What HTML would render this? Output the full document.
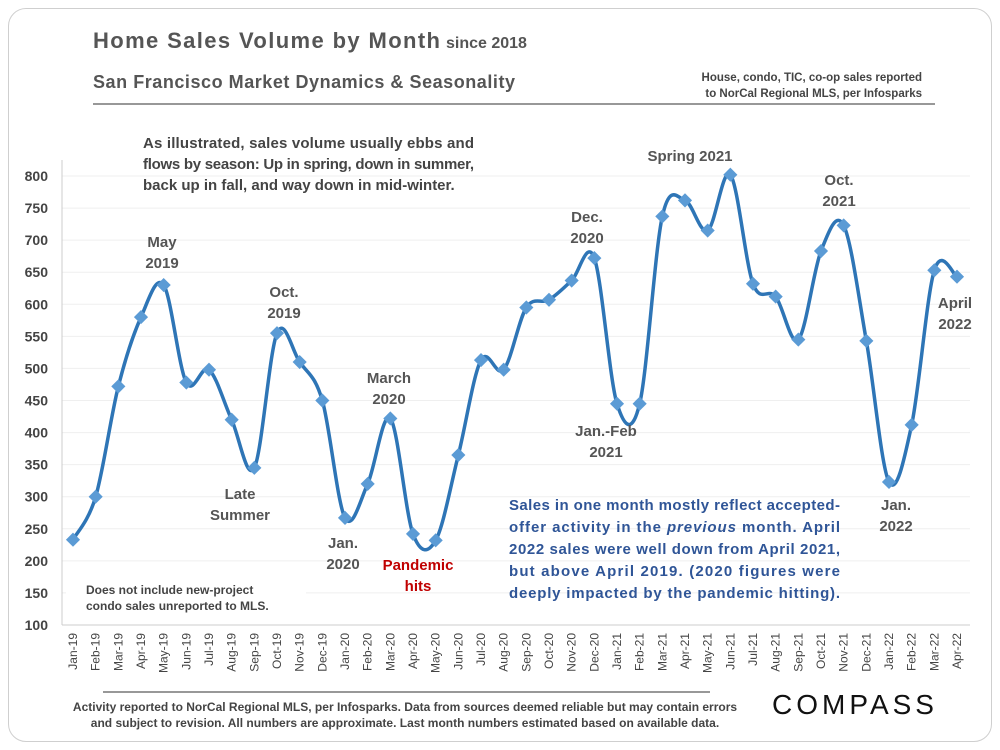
<!DOCTYPE html>
<html><head><meta charset="utf-8"><style>
body{margin:0;background:#fff;font-family:"Liberation Sans",sans-serif;}
#card{position:absolute;left:8px;top:8px;width:982px;height:732px;border:1.5px solid #cfcfcf;border-radius:18px;background:#fff;}
svg text{font-family:"Liberation Sans",sans-serif;}
</style></head><body>
<div id="card"></div>
<svg id="chart" width="1000" height="750" style="position:absolute;left:0;top:0">
<text x="93" y="48" font-size="22" font-weight="bold" fill="#555" textLength="347" lengthAdjust="spacing">Home Sales Volume by Month</text>
<text x="446" y="48" font-size="16" font-weight="bold" fill="#555">since 2018</text>
<text x="93" y="88" font-size="18" font-weight="bold" fill="#555" textLength="422" lengthAdjust="spacing">San Francisco Market Dynamics &amp; Seasonality</text>
<line x1="93" y1="104" x2="935" y2="104" stroke="#777" stroke-width="1.5"/>
<text x="922" y="81" font-size="11.5" font-weight="bold" fill="#444" text-anchor="end">House, condo, TIC, co-op sales reported</text>
<text x="922" y="97" font-size="11.5" font-weight="bold" fill="#444" text-anchor="end">to NorCal Regional MLS, per Infosparks</text>
<g id="grid"></g><g id="yt"></g><g id="xt"></g>
<line x1="62" y1="160" x2="62" y2="625" stroke="#ccc"/>
<line x1="62" y1="625" x2="970" y2="625" stroke="#ccc"/>
<path id="line" fill="none" stroke="#2e75b6" stroke-width="3.5"/>
<g id="pts"></g>
<rect x="66" y="578" width="240" height="44" fill="#fff"/>
<text x="86" y="594" font-size="12" font-weight="bold" fill="#444">Does not include new-project</text>
<text x="86" y="610" font-size="12" font-weight="bold" fill="#444">condo sales unreported to MLS.</text>
<g font-size="15" font-weight="bold" fill="#444">
<text x="143" y="148" textLength="331" lengthAdjust="spacing">As illustrated, sales volume usually ebbs and</text>
<text x="143" y="169" textLength="331" lengthAdjust="spacing">flows by season: Up in spring, down in summer,</text>
<text x="143" y="190">back up in fall, and way down in mid-winter.</text>
</g>
<g font-size="15" font-weight="bold" fill="#2f5597">
<text x="509" y="510" textLength="331" lengthAdjust="spacing">Sales in one month mostly reflect accepted-</text>
<text x="509" y="532" textLength="331" lengthAdjust="spacing">offer activity in the <tspan font-style="italic">previous</tspan> month. April</text>
<text x="509" y="554" textLength="331" lengthAdjust="spacing">2022 sales were well down from April 2021,</text>
<text x="509" y="576" textLength="331" lengthAdjust="spacing">but above April 2019. (2020 figures were</text>
<text x="509" y="598" textLength="331" lengthAdjust="spacing">deeply impacted by the pandemic hitting).</text>
</g>
<g font-size="15" font-weight="bold" fill="#555" text-anchor="middle">
<text x="162" y="247">May</text><text x="162" y="268">2019</text>
<text x="284" y="297">Oct.</text><text x="284" y="318">2019</text>
<text x="240" y="499">Late</text><text x="240" y="520">Summer</text>
<text x="343" y="548">Jan.</text><text x="343" y="569">2020</text>
<text x="389" y="383">March</text><text x="389" y="404">2020</text>
<text x="418" y="570" fill="#c00000">Pandemic</text><text x="418" y="591" fill="#c00000">hits</text>
<text x="587" y="222">Dec.</text><text x="587" y="243">2020</text>
<text x="606" y="436">Jan.-Feb</text><text x="606" y="457">2021</text>
<text x="690" y="161">Spring 2021</text>
<text x="839" y="185">Oct.</text><text x="839" y="206">2021</text>
<text x="896" y="510">Jan.</text><text x="896" y="531">2022</text>
<text x="955" y="308">April</text><text x="955" y="329">2022</text>
</g>
<line x1="103" y1="692" x2="710" y2="692" stroke="#777" stroke-width="1.5"/>
<text x="405" y="711" font-size="12" font-weight="bold" fill="#444" text-anchor="middle">Activity reported to NorCal Regional MLS, per Infosparks. Data from sources deemed reliable but may contain errors</text>
<text x="405" y="727" font-size="12" font-weight="bold" fill="#444" text-anchor="middle">and subject to revision. All numbers are approximate. Last month numbers estimated based on available data.</text>
<text x="855" y="714" font-size="28" fill="#111" text-anchor="middle" letter-spacing="4">COMPASS</text>
</svg>
<script>
const months=["Jan-19","Feb-19","Mar-19","Apr-19","May-19","Jun-19","Jul-19","Aug-19","Sep-19","Oct-19","Nov-19","Dec-19","Jan-20","Feb-20","Mar-20","Apr-20","May-20","Jun-20","Jul-20","Aug-20","Sep-20","Oct-20","Nov-20","Dec-20","Jan-21","Feb-21","Mar-21","Apr-21","May-21","Jun-21","Jul-21","Aug-21","Sep-21","Oct-21","Nov-21","Dec-21","Jan-22","Feb-22","Mar-22","Apr-22"];
const sales=[233,300,472,580,630,478,498,420,345,555,510,450,267,320,422,242,232,365,513,498,595,607,637,672,445,445,737,762,715,802,632,612,545,683,723,543,323,412,653,643];
const yTicks=[100,150,200,250,300,350,400,450,500,550,600,650,700,750,800];
const NS="http://www.w3.org/2000/svg";
const X=i=>73+i*(884/(months.length-1));
const Y=v=>625-(v-100)*(449/700);
function mk(t,a,p){const e=document.createElementNS(NS,t);for(const k in a)e.setAttribute(k,a[k]);document.getElementById(p).appendChild(e);return e;}
yTicks.forEach(v=>{
 const g=mk("line",{x1:62,x2:970,y1:Y(v),y2:Y(v),stroke:"#efefef"},"grid");
 
 
 const t=mk("text",{x:48,y:Y(v)+5,"font-size":14,"font-weight":"bold",fill:"#444","text-anchor":"end"},"yt");
 t.textContent=v;
 
 
});
months.forEach((m,i)=>{
 const t=mk("text",{transform:`translate(${X(i)+4},633) rotate(-90)`,"font-size":12,fill:"#444","text-anchor":"end"},"xt");
 t.textContent=m;
 
 
});
const P=sales.map((v,i)=>[X(i),Y(v)]);
let d=`M${P[0][0]},${P[0][1]}`;
for(let i=0;i<P.length-1;i++){
 const p0=P[Math.max(i-1,0)],p1=P[i],p2=P[i+1],p3=P[Math.min(i+2,P.length-1)];
 const c1=[p1[0]+(p2[0]-p0[0])/6,p1[1]+(p2[1]-p0[1])/6],c2=[p2[0]-(p3[0]-p1[0])/6,p2[1]-(p3[1]-p1[1])/6];
 d+=` C${c1[0]},${c1[1]} ${c2[0]},${c2[1]} ${p2[0]},${p2[1]}`;
}
document.getElementById("line").setAttribute("d",d);
P.forEach(p=>{
 const r=mk("rect",{x:p[0]-5,y:p[1]-5,width:10,height:10,fill:"#5b9bd5",transform:`rotate(45 ${p[0]} ${p[1]})`},"pts");
 
 
});
</script>
</body></html>
